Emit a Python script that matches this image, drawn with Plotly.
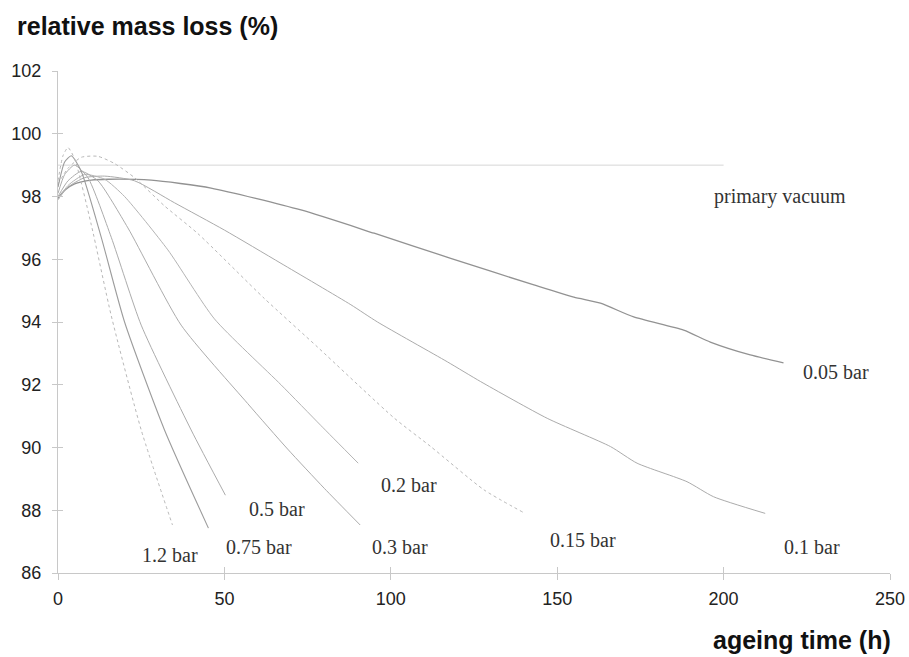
import plotly.graph_objects as go

# ---- data ----
t_005 = [0, 2, 5, 10, 15, 28, 46, 73, 95, 118, 143, 155, 163, 173, 188, 196, 208, 218]
v_005 = [97.95, 98.2, 98.4, 98.52, 98.55, 98.52, 98.27, 97.57, 96.83, 96.03, 95.18, 94.79, 94.6, 94.16, 93.74, 93.36, 92.95, 92.7]

t_01 = [0, 3, 8, 14, 23, 35, 50, 67, 88, 96, 117, 127, 147, 166, 174, 189, 197, 212.5]
v_01 = [97.9, 98.3, 98.6, 98.65, 98.5, 97.8, 96.93, 95.87, 94.55, 94.0, 92.73, 92.1, 90.93, 90.03, 89.5, 88.91, 88.43, 87.9]

t_015 = [0, 3, 7, 12, 17, 23, 32, 42, 62, 78, 101, 112, 128, 140]
v_015 = [98.4, 98.9, 99.25, 99.28, 99.05, 98.6, 97.7, 96.82, 94.75, 93.2, 90.94, 90.03, 88.65, 87.92]

t_02 = [0, 3, 8, 14, 20, 33, 47, 67, 79, 90.2]
v_02 = [97.9, 98.35, 98.7, 98.55, 98.0, 96.3, 94.1, 92.0, 90.7, 89.5]

t_03 = [0, 3, 7, 12, 21, 37, 57, 69, 80, 90.8]
v_03 = [98.0, 98.5, 98.8, 98.5, 97.0, 93.9, 91.4, 89.95, 88.7, 87.53]

t_05 = [0, 2, 5, 9, 16, 25, 40, 50.3]
v_05 = [98.1, 98.7, 99.0, 98.6, 96.7, 93.9, 90.56, 88.48]

t_075 = [0, 2, 4, 7, 13, 20, 32, 45.2]
v_075 = [98.3, 99.1, 99.3, 98.8, 96.7, 94.0, 90.56, 87.43]

t_12 = [0, 1.5, 3, 5, 10, 16, 25, 34.4]
v_12 = [98.5, 99.3, 99.56, 99.2, 97.1, 94.2, 90.56, 87.53]

t_vac = [0, 200]
v_vac = [99, 99]

label_text = ["primary vacuum", "0.05 bar", "0.1 bar", "0.15 bar", "0.2 bar",
              "0.3 bar", "0.5 bar", "0.75 bar", "1.2 bar"]
label_t = [216.8, 233.9, 226.6, 157.7, 105.4, 102.9, 65.9, 60.5, 33.8]
label_v = [97.99, 92.42, 86.84, 87.04, 88.79, 86.82, 88.03, 86.82, 86.57]

x_ticks = [0, 50, 100, 150, 200, 250]
y_ticks = [86, 88, 90, 92, 94, 96, 98, 100, 102]

# ---- styles ----
series = [
    (t_vac, v_vac, "#d6d6d6", 1.0, "solid"),
    (t_005, v_005, "#929292", 1.3, "solid"),
    (t_01, v_01, "#ababab", 1.0, "solid"),
    (t_015, v_015, "#b8b8b8", 1.0, "dot"),
    (t_02, v_02, "#b4b4b4", 1.0, "solid"),
    (t_03, v_03, "#acacac", 1.0, "solid"),
    (t_05, v_05, "#acacac", 1.0, "solid"),
    (t_075, v_075, "#9c9c9c", 1.1, "solid"),
    (t_12, v_12, "#b8b8b8", 1.0, "dot"),
]

W, H = 909, 657
ML, MR, MT, MB = 58, 19, 71, 84
PW, PH = W - ML - MR, H - MT - MB

fig = go.Figure()
for tx, vy, col, w, dash in series:
    fig.add_trace(go.Scatter(
        x=tx, y=vy, mode="lines",
        line=dict(color=col, width=w, dash=dash, shape="spline", smoothing=0.6),
        showlegend=False, hoverinfo="skip"))

for txt, lx, ly in zip(label_text, label_t, label_v):
    fig.add_annotation(x=lx, y=ly, xref="x", yref="y", text=txt, showarrow=False,
                       font=dict(family="Liberation Serif", size=20, color="#333333"),
                       xanchor="center", yanchor="middle")

axis_col = "#c8c8c8"
fig.update_layout(
    width=W, height=H,
    margin=dict(l=ML, r=MR, t=MT, b=MB, autoexpand=False),
    paper_bgcolor="white", plot_bgcolor="white",
    font=dict(family="Liberation Sans", size=18, color="#222222"),
    xaxis=dict(range=[0, 250], tickvals=x_ticks, showgrid=False, zeroline=False,
               showline=True, linecolor=axis_col, linewidth=1, automargin=False,
               ticks="outside", ticklen=6, tickcolor=axis_col, tickwidth=1,
               ticklabelstandoff=3, ticklabeloverflow="allow",
               tickfont=dict(size=18, color="#222222")),
    yaxis=dict(range=[86, 102], tickvals=y_ticks, showgrid=False, zeroline=False,
               showline=True, linecolor=axis_col, linewidth=1, automargin=False,
               ticks="outside", ticklen=5, tickcolor=axis_col, tickwidth=1,
               ticklabelstandoff=7,
               tickfont=dict(size=18, color="#222222")),
    xaxis2=dict(range=[0, 250], tickvals=x_ticks, overlaying="x", matches="x",
                showgrid=False, zeroline=False, showline=False, showticklabels=False,
                ticks="inside", ticklen=6, tickcolor=axis_col, anchor="y"),
    yaxis2=dict(range=[86, 102], tickvals=y_ticks, overlaying="y", matches="y",
                showgrid=False, zeroline=False, showline=False, showticklabels=False,
                ticks="inside", ticklen=5, tickcolor=axis_col, anchor="x"),
)
# dummy trace to activate the inner-tick overlay axes
fig.add_trace(go.Scatter(x=[None], y=[None], xaxis="x2", yaxis="y2",
                         showlegend=False, hoverinfo="skip"))

fig.add_annotation(text="<b>relative mass loss (%)</b>", xref="paper", yref="paper",
                   x=(15 - ML) / PW, y=1 + (MT - 26) / PH, xanchor="left", yanchor="middle",
                   showarrow=False, font=dict(family="Liberation Sans", size=25, color="#111111"))
fig.add_annotation(text="<b>ageing time (h)</b>", xref="paper", yref="paper",
                   x=(893 - ML) / PW, y=-(640 - (H - MB)) / PH, xanchor="right", yanchor="middle",
                   showarrow=False, font=dict(family="Liberation Sans", size=25, color="#111111"))

# remove the browser's default 8px body margin so the figure fills the window exactly
fig.write_html("out.html",
               config={"displayModeBar": False},
               post_script="document.body.style.margin='0';document.body.style.overflow='hidden';")
